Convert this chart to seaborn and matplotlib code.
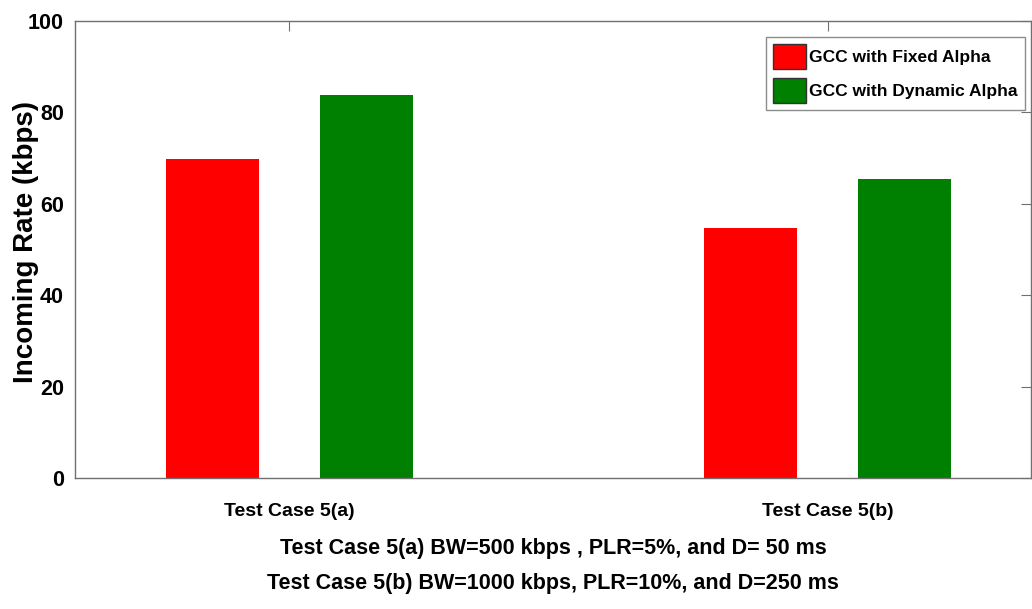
import pandas as pd
import seaborn as sns
import matplotlib.pyplot as plt
from matplotlib.patches import Patch

# values
cases = ['Test Case 5(a)', 'Test Case 5(b)']
fixed_alpha = [69.8, 54.7]
dynamic_alpha = [83.8, 65.4]
series_names = ['GCC with Fixed Alpha', 'GCC with Dynamic Alpha']
colors = ['#FF0000', '#008000']
x_label = ('Test Case 5(a) BW=500 kbps , PLR=5%, and D= 50 ms\n'
           'Test Case 5(b) BW=1000 kbps, PLR=10%, and D=250 ms')

df = pd.DataFrame({
    'case': cases * 2,
    'series': [series_names[0]] * 2 + [series_names[1]] * 2,
    'rate': fixed_alpha + dynamic_alpha,
})

sns.set_style('white')
plt.rcParams['font.family'] = ['Liberation Sans', 'DejaVu Sans']
plt.rcParams['text.color'] = 'black'
plt.rcParams['axes.labelcolor'] = 'black'
plt.rcParams['xtick.labelcolor'] = 'black'
plt.rcParams['ytick.labelcolor'] = 'black'

fig = plt.figure(figsize=(10.32, 6.09), dpi=100)
ax = fig.add_axes([0.0727, 0.2151, 0.9265, 0.7504])

sns.barplot(data=df, x='case', y='rate', hue='series', palette=colors,
            saturation=1, width=0.572, gap=0.395, edgecolor='none', ax=ax,
            legend=False)

ax.set_xlim(-0.398, 1.378)
ax.set_ylim(0, 100)
ax.set_yticks([0, 20, 40, 60, 80, 100])

# box with inward ticks on all sides, matlab style
for side in ['top', 'right', 'left', 'bottom']:
    ax.spines[side].set_visible(True)
    ax.spines[side].set_color('#707070')
    ax.spines[side].set_linewidth(1.0)
ax.tick_params(direction='in', length=7, width=0.8, color='#707070',
               top=True, right=True, labelsize=15.5, pad=8)
for lab in ax.get_xticklabels():
    lab.set_fontsize(14)
    lab.set_fontweight('bold')
for lab in ax.get_yticklabels():
    lab.set_fontweight('bold')
ax.tick_params(axis='x', pad=18)

ax.set_ylabel('Incoming Rate (kbps)', fontsize=20, fontweight='bold')
ax.yaxis.set_label_coords(-0.0377, 0.516)
ax.set_xlabel(x_label, fontsize=15.5, fontweight='bold', linespacing=1.9,
              labelpad=13)

handles = [Patch(facecolor=c, edgecolor='#333333', label=n)
           for c, n in zip(colors, series_names)]
leg = ax.legend(handles=handles, loc='upper right',
                bbox_to_anchor=(0.9937, 0.965), borderaxespad=0,
                prop={'weight': 'bold', 'size': 12.5}, frameon=True,
                fancybox=False, edgecolor='#707070', handlelength=1.9,
                handleheight=1.83, handletextpad=0.2, borderpad=0.42,
                labelspacing=0.52)
leg.get_frame().set_linewidth(1.0)

fig.savefig('out.png', dpi=100)
